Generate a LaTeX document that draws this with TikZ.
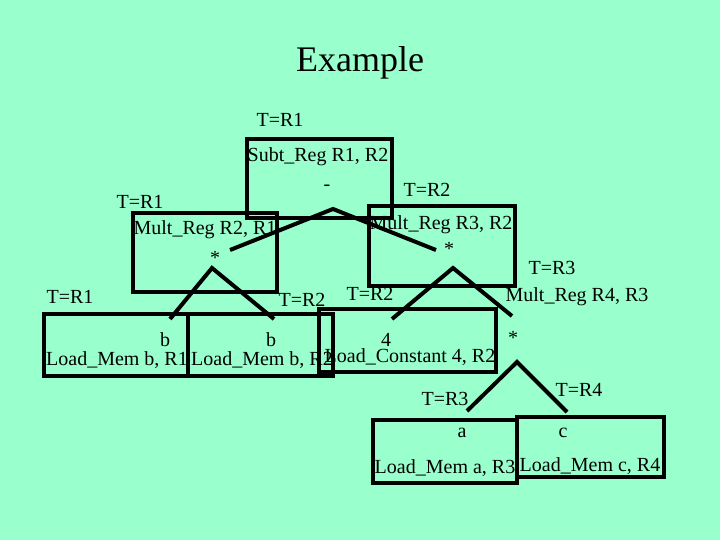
\documentclass[tikz,border=0pt]{standalone}
\usepackage{fontspec}
\setmainfont{Liberation Serif}
\definecolor{bg}{RGB}{153,255,204}
\begin{document}
\begin{tikzpicture}[x=1pt,y=-1pt,
  box/.style={draw,line width=3.5pt,inner sep=0pt},
  lbl/.style={inner sep=0pt,font=\fontsize{20}{22}\selectfont},
  edge/.style={line width=4pt}]
\fill[bg] (0,0) rectangle (720,540);
\useasboundingbox (0,0) rectangle (720,540);
\node[lbl,font=\fontsize{36}{38}\selectfont] (title) at (360,63) {Example};
% boxes
\node[box,minimum width=145pt,minimum height=79pt] (bsub) at (319.5,178.5) {};
\node[box,minimum width=144pt,minimum height=79pt] (bml) at (205,252.5) {};
\node[box,minimum width=146pt,minimum height=80pt] (bmr) at (442,246) {};
\node[box,minimum width=144pt,minimum height=62pt] (bb1) at (116,345) {};
\node[box,minimum width=145pt,minimum height=62pt] (bb2) at (260.5,345) {};
\node[box,minimum width=177pt,minimum height=63pt] (bc4) at (407.5,340.5) {};
\node[box,minimum width=144pt,minimum height=63pt] (ba) at (445,451.5) {};
\node[box,minimum width=147pt,minimum height=60pt] (bcc) at (590.5,447) {};
% labels
\node[lbl] (t1) at (280,120) {T=R1};
\node[lbl] (s1) at (318,157) {Subt\_Reg R1, R2};
\node[lbl] (minus) at (327,188) {-};
\node[lbl] (t2) at (140,202) {T=R1};
\node[lbl] (s2) at (205,230) {Mult\_Reg R2, R1};
\node[lbl] (star1) at (215,258) {*};
\node[lbl] (t3) at (427,190) {T=R2};
\node[lbl] (s3) at (441,225) {Mult\_Reg R3, R2};
\node[lbl] (star2) at (449,249) {*};
\node[lbl] (t4) at (70,297) {T=R1};
\node[lbl] (t5) at (302,300) {T=R2};
\node[lbl] (t6) at (370,294) {T=R2};
\node[lbl] (t7) at (552,268) {T=R3};
\node[lbl] (s7) at (577,297) {Mult\_Reg R4, R3};
\node[lbl] (star3) at (513,338) {*};
\node[lbl] (lb1) at (165,340) {b};
\node[lbl] (lb2) at (271,340) {b};
\node[lbl] (l4) at (386,340) {4};
\node[lbl] (s8) at (117,360) {Load\_Mem b, R1};
\node[lbl] (s9) at (262,360) {Load\_Mem b, R2};
\node[lbl] (s10) at (410,357) {Load\_Constant 4, R2};
\node[lbl] (t8) at (445,399) {T=R3};
\node[lbl] (t9) at (579,390) {T=R4};
\node[lbl] (la) at (462,433) {a};
\node[lbl] (lc) at (563,433) {c};
\node[lbl] (s11) at (445,468) {Load\_Mem a, R3};
\node[lbl] (s12) at (590,466) {Load\_Mem c, R4};
% connectors
\coordinate (p0) at (333,209); \coordinate (p0l) at (230,250); \coordinate (p0r) at (436,250);
\coordinate (p1) at (212,268); \coordinate (p1l) at (170,319); \coordinate (p1r) at (274,319);
\coordinate (p2) at (453,268); \coordinate (p2l) at (392,319); \coordinate (p2r) at (512,316);
\coordinate (p3) at (517,362); \coordinate (p3l) at (467,411); \coordinate (p3r) at (567,412);
\draw[edge] (p0l) -- (p0) -- (p0r);
\draw[edge] (p1l) -- (p1) -- (p1r);
\draw[edge] (p2l) -- (p2) -- (p2r);
\draw[edge] (p3l) -- (p3) -- (p3r);
\end{tikzpicture}
\end{document}
